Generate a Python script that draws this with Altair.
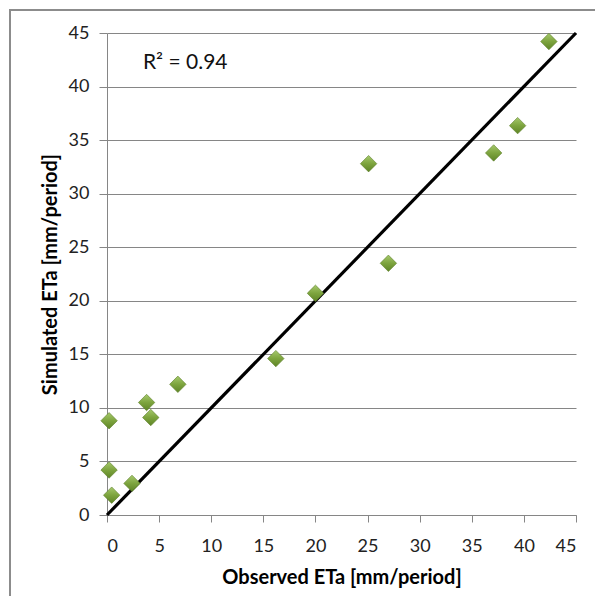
import altair as alt
import pandas as pd

observed = [0.2, 0.2, 0.45, 2.4, 3.8, 4.2, 6.8, 16.2, 20.0, 25.1, 27.0, 37.1, 39.4, 42.4]
simulated = [8.8, 4.2, 1.85, 2.95, 10.5, 9.1, 12.2, 14.6, 20.7, 32.8, 23.5, 33.8, 36.35, 44.2]
line_x = [0, 45]
line_y = [0, 45]
ticks = [0, 5, 10, 15, 20, 25, 30, 35, 40, 45]

FONT = "Lato"
GRAY = "#868686"

pts = pd.DataFrame({"obs": observed, "sim": simulated})
ln = pd.DataFrame({"obs": line_x, "sim": line_y})
ann = pd.DataFrame({"obs": [3.45], "sim": [42.2], "t": ["R\u00b2 = 0.94"]})
frame = pd.DataFrame({"a": [0]})

xs = alt.Scale(domain=[0, 45], nice=False)
ys = alt.Scale(domain=[0, 45], nice=False)

xaxis = alt.Axis(values=ticks, grid=False, title="Observed ETa [mm/period]",
                 domainColor=GRAY, tickColor=GRAY, tickSize=7, labelPadding=15,
                 labelFontSize=18, labelColor="#222222", labelFont=FONT,
                 titleFont=FONT, titleFontSize=20, titleFontWeight="bold",
                 titleColor="#000000", titlePadding=12)
yaxis = alt.Axis(values=ticks, grid=True, gridColor=GRAY, gridWidth=1,
                 title="Simulated ETa [mm/period]",
                 domainColor=GRAY, tickColor=GRAY, tickSize=8, labelPadding=10,
                 labelFontSize=18, labelColor="#222222", labelFont=FONT,
                 titleFont=FONT, titleFontSize=20, titleFontWeight="bold",
                 titleColor="#000000", titlePadding=8)

border = alt.Chart(frame).mark_rect(fill=None, stroke="#8c8c8c", strokeWidth=2).encode(
    x=alt.value(-97), x2=alt.value(700), y=alt.value(-23), y2=alt.value(700)
)

line = alt.Chart(ln).mark_line(color="black", strokeWidth=3.2).encode(
    x=alt.X("obs:Q", scale=xs, axis=xaxis),
    y=alt.Y("sim:Q", scale=ys, axis=yaxis),
)

grad = alt.LinearGradient(
    gradient="linear", x1=0, y1=0, x2=0, y2=1,
    stops=[alt.GradientStop(color="#a6c96c", offset=0),
           alt.GradientStop(color="#7da43e", offset=0.5),
           alt.GradientStop(color="#5e8426", offset=1)],
)

points = alt.Chart(pts).mark_point(shape="diamond", size=270, filled=True,
                                   fill=grad, opacity=1, stroke="#5a7d26",
                                   strokeWidth=0.6).encode(
    x=alt.X("obs:Q", scale=xs),
    y=alt.Y("sim:Q", scale=ys),
)

label = alt.Chart(ann).mark_text(align="left", baseline="middle", font=FONT,
                                 fontSize=21, color="#111111").encode(
    x=alt.X("obs:Q", scale=xs),
    y=alt.Y("sim:Q", scale=ys),
    text="t:N",
)

chart = alt.layer(border, line, points, label).properties(
    width=469, height=482,
    autosize=alt.AutoSizeParams(type="none"),
    padding={"left": 99, "top": 25, "right": 19, "bottom": 81},
    background="white",
).configure_view(stroke=None)

chart.save("out.html", embed_options={"renderer": "svg", "actions": False})
